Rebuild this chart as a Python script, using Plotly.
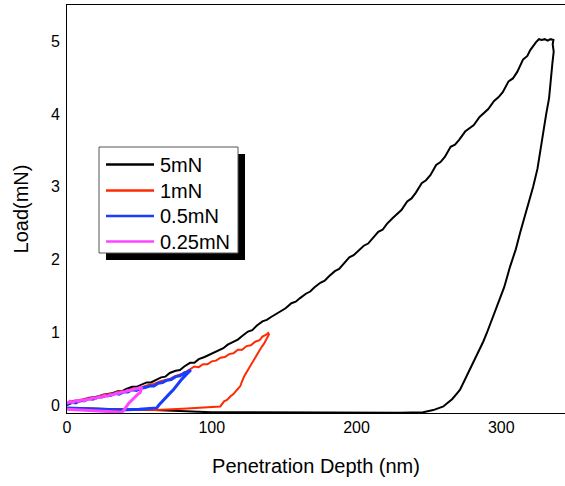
import plotly.graph_objects as go

# ---- data (penetration depth nm, load mN) ----
x_5mN_load = [0, 3, 6, 9, 12, 15, 18, 21, 25, 28, 31, 35, 38, 41, 45, 48, 52, 55, 58, 62, 65,
              68, 71, 75, 78, 81, 85, 88, 91, 95, 98, 101, 105, 108, 111, 115, 118, 121, 125,
              128, 131, 135, 138, 141, 145, 148, 151, 155, 158, 161, 165, 168, 171, 175, 178,
              181, 185, 188, 191, 195, 198, 201, 205, 208, 211, 215, 218, 221, 225, 228, 231,
              235, 238, 241, 245, 248, 251, 255, 258, 261, 265, 268, 271, 275, 278, 281, 285,
              288, 291, 295, 298, 301, 305, 308, 311, 315, 318, 320, 322, 324, 326, 328, 330,
              332, 334, 336]
y_5mN_load = [0.00, 0.03, 0.05, 0.05, 0.08, 0.09, 0.11, 0.11, 0.14, 0.15, 0.16, 0.19, 0.19, 0.22,
              0.25, 0.25, 0.28, 0.31, 0.31, 0.35, 0.38, 0.39, 0.44, 0.47, 0.48, 0.53, 0.58, 0.58,
              0.63, 0.66, 0.69, 0.71, 0.76, 0.78, 0.83, 0.87, 0.90, 0.95, 1.01, 1.03, 1.09, 1.15,
              1.17, 1.21, 1.26, 1.29, 1.33, 1.40, 1.42, 1.47, 1.53, 1.56, 1.62, 1.68, 1.71, 1.77,
              1.84, 1.87, 1.94, 2.03, 2.06, 2.11, 2.19, 2.22, 2.29, 2.38, 2.41, 2.49, 2.57, 2.62,
              2.68, 2.80, 2.84, 2.92, 3.05, 3.09, 3.16, 3.30, 3.34, 3.41, 3.55, 3.58, 3.65, 3.76,
              3.80, 3.85, 3.96, 4.01, 4.07, 4.18, 4.23, 4.30, 4.45, 4.49, 4.58, 4.75, 4.80, 4.88,
              4.94, 4.99, 5.03, 5.02, 5.03, 5.01, 5.03, 5.02]
x_5mN_unload = [336, 335.5, 336.2, 335.3, 334.5, 333, 331, 329, 327, 325, 322, 319, 316, 313,
                310, 306, 302, 297, 293.5, 290, 287.5, 285, 282.5, 280.5, 278, 276, 273.5,
                271.5, 269, 266, 263, 260, 253, 246, 230, 207, 150, 100, 60, 0]
y_5mN_unload = [5.02, 4.96, 4.86, 4.70, 4.50, 4.22, 4.00, 3.75, 3.47, 3.25, 3.00, 2.80, 2.58,
                2.37, 2.14, 1.90, 1.62, 1.35, 1.17, 0.99, 0.87, 0.77, 0.66, 0.57, 0.48, 0.40,
                0.30, 0.21, 0.15, 0.08, 0.03, -0.02, -0.07, -0.10, -0.105, -0.105, -0.105,
                -0.10, -0.07, -0.04]

x_1mN_load = [0, 5, 10, 15, 20, 25, 30, 35, 40, 45, 50, 55, 60, 65, 70, 75, 80, 85, 88, 91, 94,
              97, 100, 103, 106, 109, 112, 115, 118, 121, 124, 127, 130, 133, 135, 137, 139]
y_1mN_load = [0.03, 0.06, 0.07, 0.10, 0.11, 0.14, 0.15, 0.18, 0.19, 0.22, 0.23, 0.27, 0.29, 0.33,
              0.35, 0.40, 0.43, 0.49, 0.53, 0.52, 0.56, 0.56, 0.60, 0.61, 0.65, 0.66, 0.70, 0.71,
              0.76, 0.76, 0.81, 0.82, 0.87, 0.89, 0.94, 0.96, 0.99]
x_1mN_unload = [139.5, 138.5, 137.5, 136, 134.5, 133, 131.5, 130, 128.5, 127, 125.5, 124,
                122.5, 121, 119.7, 117.5, 115, 113, 110.5, 108.5, 107, 105.9, 80, 61, 30, 0]
y_1mN_unload = [0.97, 0.93, 0.89, 0.84, 0.80, 0.75, 0.71, 0.66, 0.61, 0.56, 0.51, 0.45, 0.40,
                0.33, 0.26, 0.21, 0.15, 0.12, 0.07, 0.05, 0.01, -0.02, -0.05, -0.07, -0.06,
                -0.04]

x_05mN_load = [0, 3, 6, 9, 12, 15, 18, 21, 24, 27, 30, 33, 36, 39, 42, 45, 48, 51, 54, 57, 60,
               63, 66, 69, 72, 75, 78, 81, 83, 85]
y_05mN_load = [0.01, 0.04, 0.03, 0.06, 0.06, 0.09, 0.08, 0.11, 0.11, 0.13, 0.13, 0.16, 0.15,
               0.18, 0.18, 0.21, 0.20, 0.23, 0.24, 0.26, 0.26, 0.30, 0.31, 0.34, 0.35, 0.39,
               0.40, 0.44, 0.45, 0.48]
x_05mN_unload = [85, 84, 82.8, 81, 79.5, 78, 76.5, 75, 73.5, 72, 70.5, 69, 67.8, 66.6, 65, 63.5,
                 62, 50, 36.8, 20, 0]
y_05mN_unload = [0.47, 0.45, 0.43, 0.39, 0.36, 0.32, 0.29, 0.25, 0.21, 0.18, 0.15, 0.12, 0.10,
                 0.07, 0.04, 0.00, -0.04, -0.06, -0.07, -0.06, -0.04]

x_025mN_load = [0, 2, 4, 6, 8, 10, 12, 14, 16, 18, 20, 22, 24, 26, 28, 30, 32, 34, 36, 38, 40,
                42, 44, 46, 48, 50, 51.7]
y_025mN_load = [0.02, 0.05, 0.03, 0.06, 0.05, 0.07, 0.06, 0.08, 0.08, 0.10, 0.09, 0.11, 0.11,
                0.13, 0.12, 0.14, 0.14, 0.16, 0.16, 0.18, 0.18, 0.20, 0.20, 0.22, 0.22, 0.24,
                0.25]
x_025mN_unload = [51.5, 51, 50.6, 49, 47.5, 46, 44.5, 43.7, 42.5, 41.5, 40.3, 39, 38, 20, 0]
y_025mN_unload = [0.24, 0.21, 0.17, 0.15, 0.12, 0.10, 0.07, 0.05, 0.02, -0.01, -0.05, -0.08,
                  -0.10, -0.08, -0.06]

names = ["5mN", "1mN", "0.5mN", "0.25mN"]
colors = ["#000000", "#ff2a00", "#1a3cff", "#ff44ff"]
widths = [2, 2, 3, 3]
xs = [x_5mN_load + x_5mN_unload, x_1mN_load + x_1mN_unload,
      x_05mN_load + x_05mN_unload, x_025mN_load + x_025mN_unload]
ys = [y_5mN_load + y_5mN_unload, y_1mN_load + y_1mN_unload,
      y_05mN_load + y_05mN_unload, y_025mN_load + y_025mN_unload]

font = "Liberation Sans, Arial, sans-serif"
fig = go.Figure()
for n, c, w, xv, yv in zip(names, colors, widths, xs, ys):
    fig.add_trace(go.Scatter(x=xv, y=yv, mode="lines", name=n, showlegend=False,
                             line=dict(color=c, width=w)))

L, T, B = 67, 5, 73
W, H = 565, 486
pw, ph = W - L, H - T - B

def px(xp):
    return (xp - L) / pw

def py(yp):
    return (H - B - yp) / ph

# legend drawn as box + shadow + samples + labels
fig.add_shape(type="rect", xref="paper", yref="paper", x0=px(106), y0=py(260), x1=px(245),
              y1=py(154), fillcolor="black", line=dict(width=0), layer="above")
fig.add_shape(type="rect", xref="paper", yref="paper", x0=px(99), y0=py(253), x1=px(238),
              y1=py(147), fillcolor="white", line=dict(width=1, color="#555555"), layer="above")
row_y = [164.5, 190.5, 216, 241.5]
for n, c, ry in zip(names, colors, row_y):
    fig.add_shape(type="line", xref="paper", yref="paper", x0=px(106), x1=px(154),
                  y0=py(ry), y1=py(ry), line=dict(color=c, width=2.5), layer="above")
    fig.add_annotation(xref="paper", yref="paper", x=px(158), y=py(ry + 0.5), text=n,
                       showarrow=False, xanchor="left", yanchor="middle",
                       font=dict(size=20, color="black", family=font))

fig.update_layout(
    width=W, height=H,
    margin=dict(l=L, r=0, t=T, b=B),
    paper_bgcolor="white", plot_bgcolor="white",
    font=dict(family=font, size=16, color="black"),
    showlegend=False,
    xaxis=dict(range=[0, 344], showgrid=False, zeroline=False, showline=True,
               linecolor="black", linewidth=1, mirror=True, ticks="",
               tickvals=[0, 100, 200, 300], ticklabelstandoff=0,
               title=dict(text="Penetration Depth (nm)", font=dict(size=20), standoff=23)),
    yaxis=dict(range=[-0.11, 5.5], showgrid=False, zeroline=False, showline=True,
               linecolor="black", linewidth=1, ticks="",
               tickvals=[0, 1, 2, 3, 4, 5], ticklabelstandoff=3,
               title=dict(text="Load(mN)", font=dict(size=20), standoff=16)),
)
fig.write_html("out.html")
